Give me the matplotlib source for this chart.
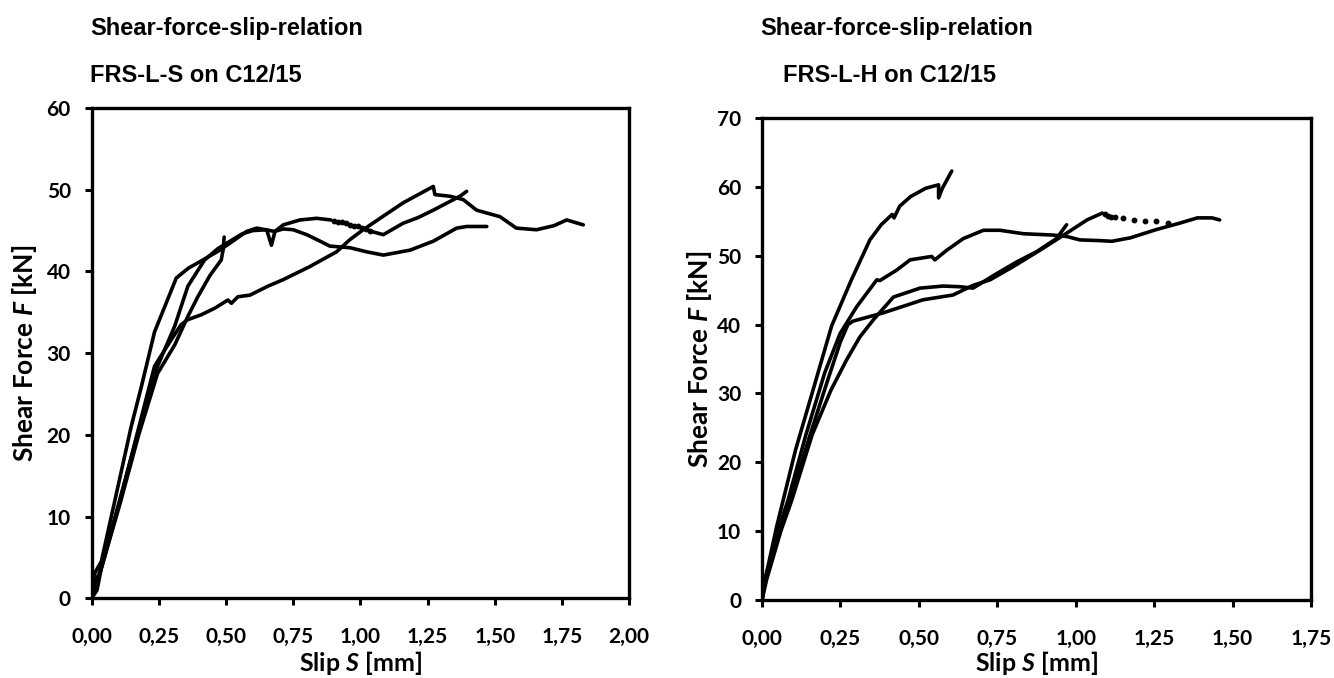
import matplotlib.pyplot as plt
from matplotlib.ticker import FuncFormatter

plt.rcParams['font.family'] = ['Lato', 'DejaVu Sans']
plt.rcParams['font.weight'] = 'bold'
plt.rcParams['mathtext.fontset'] = 'custom'
plt.rcParams['mathtext.it'] = 'Lato:italic:bold'
plt.rcParams['mathtext.rm'] = 'Lato:bold'

# ---- left chart: FRS-L-S on C12/15 ----
ls_a_x = [0, 0.004, 0.01, 0.036, 0.09, 0.147, 0.185, 0.234, 0.315, 0.36, 0.403, 0.477, 0.577, 0.614, 0.68, 0.713,
          0.75, 0.8, 0.85, 0.886, 0.961, 1.023, 1.085, 1.184, 1.271, 1.358, 1.395, 1.47]
ls_a_f = [0, 1.5, 3.0, 4.5, 12.5, 21.0, 25.9, 32.6, 39.2, 40.4, 41.2, 42.6, 44.9, 45.3, 44.9, 45.2,
          45.1, 44.5, 43.7, 43.1, 42.9, 42.4, 42.0, 42.6, 43.7, 45.3, 45.5, 45.5]

ls_b1_x = [0, 0.012, 0.03, 0.1, 0.17, 0.24, 0.309, 0.358, 0.42, 0.47, 0.52, 0.56, 0.60, 0.651, 0.669, 0.682,
           0.713, 0.775, 0.837, 0.89]
ls_b1_f = [0, 2.0, 3.2, 11.5, 20.0, 28.0, 33.3, 38.2, 41.4, 42.8, 43.8, 44.6, 45.0, 45.1, 43.2, 44.9,
           45.7, 46.3, 46.5, 46.3]
ls_b_dots_x = [0.90, 0.915, 0.93, 0.945, 0.96, 0.975, 0.99, 1.005, 1.02, 1.035]
ls_b_dots_f = [46.2, 46.1, 46.0, 45.9, 45.7, 45.6, 45.5, 45.3, 45.2, 45.0]
ls_b2_x = [1.04, 1.085, 1.159, 1.215, 1.271, 1.37, 1.395]
ls_b2_f = [44.9, 44.5, 45.9, 46.6, 47.5, 49.2, 49.8]

ls_c_x = [0, 0.015, 0.03, 0.105, 0.175, 0.245, 0.309, 0.358, 0.395, 0.44, 0.482, 0.49, 0.493]
ls_c_f = [0, 2.0, 3.0, 11.5, 20.0, 27.5, 31.0, 34.5, 36.9, 39.5, 41.4, 42.8, 44.2]

ls_d_x = [0, 0.02, 0.035, 0.11, 0.18, 0.234, 0.272, 0.333, 0.358, 0.408, 0.458, 0.507, 0.52, 0.544, 0.589,
          0.656, 0.713, 0.812, 0.911, 0.961, 1.01, 1.073, 1.159, 1.271, 1.277, 1.333, 1.382, 1.432, 1.519,
          1.58, 1.655, 1.72, 1.767, 1.829]
ls_d_f = [0, 1.0, 3.5, 12.5, 21.5, 28.4, 30.4, 33.5, 34.1, 34.7, 35.5, 36.5, 36.1, 36.9, 37.1,
          38.2, 39.0, 40.6, 42.4, 43.9, 45.1, 46.5, 48.4, 50.4, 49.4, 49.2, 48.8, 47.5, 46.7,
          45.3, 45.1, 45.6, 46.3, 45.7]

# ---- right chart: FRS-L-H on C12/15 ----
lh_a_x = [0, 0.01, 0.047, 0.107, 0.166, 0.222, 0.285, 0.344, 0.38, 0.415, 0.421, 0.439, 0.474, 0.522,
          0.563, 0.563, 0.575, 0.605]
lh_a_f = [0, 3.0, 10.7, 21.8, 31.0, 39.8, 46.5, 52.3, 54.5, 56.0, 55.5, 57.2, 58.6, 59.8,
          60.3, 58.4, 59.8, 62.3]

lh_b_x = [0, 0.01, 0.05, 0.083, 0.14, 0.20, 0.249, 0.302, 0.366, 0.376, 0.429, 0.472, 0.541, 0.551, 0.589,
          0.642, 0.706, 0.759, 0.833, 0.929, 0.971, 1.014, 1.077, 1.115, 1.174, 1.257, 1.329, 1.388,
          1.435, 1.459]
lh_b_f = [0, 3.0, 10.0, 14.5, 24.0, 33.0, 38.7, 42.6, 46.5, 46.4, 47.9, 49.4, 49.9, 49.4, 50.8,
          52.5, 53.7, 53.7, 53.2, 53.0, 52.8, 52.3, 52.2, 52.1, 52.6, 53.8, 54.7, 55.5,
          55.5, 55.2]

lh_c_x = [0, 0.012, 0.055, 0.09, 0.15, 0.21, 0.25, 0.274, 0.29, 0.386, 0.513, 0.609, 0.673, 0.727, 0.80,
          0.886, 0.972, 1.036, 1.085]
lh_c_f = [0, 3.0, 10.0, 14.5, 23.5, 32.0, 37.5, 40.0, 40.5, 41.7, 43.6, 44.3, 45.7, 46.5, 48.4,
          50.8, 53.3, 55.2, 56.2]
lh_c_dots_x = [1.095, 1.103, 1.112, 1.127, 1.15, 1.186, 1.222, 1.257, 1.293]
lh_c_dots_f = [56.0, 55.8, 55.7, 55.6, 55.5, 55.2, 55.0, 55.0, 54.7]

lh_d_x = [0, 0.015, 0.06, 0.095, 0.16, 0.22, 0.27, 0.312, 0.355, 0.419, 0.504, 0.578, 0.631, 0.673,
          0.748, 0.812, 0.876, 0.939, 0.971]
lh_d_f = [0, 3.0, 10.0, 14.5, 24.0, 30.5, 34.9, 38.2, 40.7, 44.0, 45.3, 45.6, 45.5, 45.3,
          47.4, 49.1, 50.6, 52.5, 54.5]


def comma_fmt(v, pos):
    return ('%.2f' % v).replace('.', ',')


def style_axes(ax, xmax, ymax, xlab_y, ylab_x):
    ax.set_xlim(0, xmax)
    ax.set_ylim(0, ymax)
    ax.set_xticks([i * 0.25 for i in range(int(round(xmax / 0.25)) + 1)])
    ax.set_yticks(range(0, ymax + 1, 10))
    ax.xaxis.set_major_formatter(FuncFormatter(comma_fmt))
    for s in ax.spines.values():
        s.set_linewidth(2.4)
    ax.tick_params(direction='out', length=5, width=2.2, labelsize=15)
    ax.tick_params(axis='x', pad=16)
    ax.tick_params(axis='y', pad=10)
    ax.set_xlabel('Slip $\\mathit{S}$ [mm]', fontsize=18, fontweight='bold')
    ax.set_ylabel('Shear Force $\\mathit{F}$ [kN]', fontsize=19, fontweight='bold')
    ax.xaxis.set_label_coords(0.5, xlab_y)
    ax.yaxis.set_label_coords(ylab_x, 0.5)


fig = plt.figure(figsize=(13.34, 6.78), dpi=100)
ax1 = fig.add_axes([0.0687, 0.1176, 0.4030, 0.7231])
ax2 = fig.add_axes([0.5712, 0.1150, 0.4115, 0.7109])

lw = 2.6
for xs, fs in [(ls_a_x, ls_a_f), (ls_b1_x, ls_b1_f), (ls_b2_x, ls_b2_f), (ls_c_x, ls_c_f), (ls_d_x, ls_d_f)]:
    ax1.plot(xs, fs, color='black', lw=lw, solid_capstyle='round', solid_joinstyle='round')
ax1.plot(ls_b_dots_x, ls_b_dots_f, 'o', color='black', ms=3.2)
style_axes(ax1, 2.0, 60, -0.104, -0.098)

for xs, fs in [(lh_a_x, lh_a_f), (lh_b_x, lh_b_f), (lh_c_x, lh_c_f), (lh_d_x, lh_d_f)]:
    ax2.plot(xs, fs, color='black', lw=lw, solid_capstyle='round', solid_joinstyle='round')
ax2.plot(lh_c_dots_x, lh_c_dots_f, 'o', color='black', ms=3.2)
style_axes(ax2, 1.75, 70, -0.102, -0.088)

tfont = dict(family='Liberation Sans', fontweight='bold', fontsize=17, va='center', ha='left')
fig.text(90 / 1334, 1 - 28 / 678, 'Shear-force-slip-relation', **tfont)
fig.text(90 / 1334, 1 - 75 / 678, 'FRS-L-S on C12/15', **tfont)
fig.text(760 / 1334, 1 - 28 / 678, 'Shear-force-slip-relation', **tfont)
fig.text(783 / 1334, 1 - 75 / 678, 'FRS-L-H on C12/15', **tfont)

fig.savefig('out.png', dpi=100)
